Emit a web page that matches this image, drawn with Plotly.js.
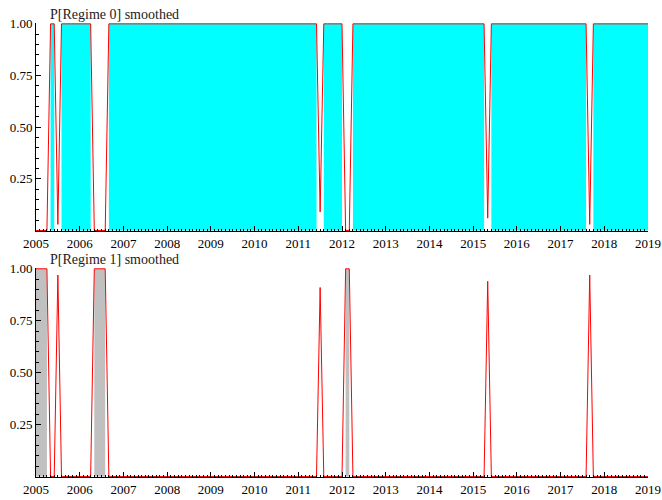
<!DOCTYPE html>
<html>
<head>
<meta charset="utf-8">
<script src="https://cdn.plot.ly/plotly-3.0.1.min.js"></script>
<style>html,body{margin:0;padding:0;background:#fff;}#chart{width:662px;height:500px;}</style>
</head>
<body>
<div id="chart"></div>
<script>
// Monthly observations, starting January 2005
const startYear = 2005;
const yearTicks = [2005,2006,2007,2008,2009,2010,2011,2012,2013,2014,2015,2016,2017,2018,2019];
const yTickVals = [0.25, 0.5, 0.75, 1.0];
const yTickText = ["0.25", "0.50", "0.75", "1.00"];
const titleTop = "P[Regime 0] smoothed";
const titleBottom = "P[Regime 1] smoothed";

// P[Regime 0] smoothed, one row per year
const p0 = [
  0,0,0,0,1,1,0.03,1,1,1,1,1,          // 2005
  1,1,1,1,0,0,0,0,1,1,1,1,             // 2006
  1,1,1,1,1,1,1,1,1,1,1,1,             // 2007
  1,1,1,1,1,1,1,1,1,1,1,1,             // 2008
  1,1,1,1,1,1,1,1,1,1,1,1,             // 2009
  1,1,1,1,1,1,1,1,1,1,1,1,             // 2010
  1,1,1,1,1,1,0.09,1,1,1,1,1,          // 2011
  1,0,0,1,1,1,1,1,1,1,1,1,             // 2012
  1,1,1,1,1,1,1,1,1,1,1,1,             // 2013
  1,1,1,1,1,1,1,1,1,1,1,1,             // 2014
  1,1,1,1,0.06,1,1,1,1,1,1,1,          // 2015
  1,1,1,1,1,1,1,1,1,1,1,1,             // 2016
  1,1,1,1,1,1,1,1,0.03,1,1,1,          // 2017
  1,1,1,1,1,1,1,1,1,1,1,1,             // 2018
  1                                    // 2019
];

// P[Regime 1] smoothed, one row per year
const p1 = [
  1,1,1,1,0,0,0.97,0,0,0,0,0,          // 2005
  0,0,0,0,1,1,1,1,0,0,0,0,             // 2006
  0,0,0,0,0,0,0,0,0,0,0,0,             // 2007
  0,0,0,0,0,0,0,0,0,0,0,0,             // 2008
  0,0,0,0,0,0,0,0,0,0,0,0,             // 2009
  0,0,0,0,0,0,0,0,0,0,0,0,             // 2010
  0,0,0,0,0,0,0.91,0,0,0,0,0,          // 2011
  0,1,1,0,0,0,0,0,0,0,0,0,             // 2012
  0,0,0,0,0,0,0,0,0,0,0,0,             // 2013
  0,0,0,0,0,0,0,0,0,0,0,0,             // 2014
  0,0,0,0,0.94,0,0,0,0,0,0,0,          // 2015
  0,0,0,0,0,0,0,0,0,0,0,0,             // 2016
  0,0,0,0,0,0,0,0,0.97,0,0,0,          // 2017
  0,0,0,0,0,0,0,0,0,0,0,0,             // 2018
  0                                    // 2019
];

const t = p0.map((_, i) => startYear + i / 12);

function blocks(vals) {
  const out = [];
  let a = null;
  vals.forEach((v, i) => {
    if (v > 0.5) { if (a === null) a = i; }
    else if (a !== null) { out.push([a, i - 1]); a = null; }
  });
  if (a !== null) out.push([a, vals.length - 1]);
  return out;
}

function shadeTraces(vals, color, xa, ya) {
  return blocks(vals).filter(b => b[1] > b[0]).map(b => ({
    x: [t[b[0]], t[b[1]]], y: [1, 1], xaxis: xa, yaxis: ya,
    mode: 'lines', fill: 'tozeroy', fillcolor: color,
    line: {width: 0, color: color}, hoverinfo: 'skip', showlegend: false
  }));
}

const traces = [
  ...shadeTraces(p0, '#00FFFF', 'x', 'y'),
  {x: t, y: p0, xaxis: 'x', yaxis: 'y', mode: 'lines', line: {color: '#FF0000', width: 1}, showlegend: false},
  ...shadeTraces(p1, '#C0C0C0', 'x2', 'y2'),
  {x: t, y: p1, xaxis: 'x2', yaxis: 'y2', mode: 'lines', line: {color: '#FF0000', width: 1}, showlegend: false}
];

const fontFam = 'Liberation Serif, Times New Roman, serif';

function xAxis(anchor) {
  return {
    anchor: anchor, range: [2005, 2019], domain: [0, 1],
    tickmode: 'array', tickvals: yearTicks, ticktext: yearTicks.map(String),
    ticks: 'inside', ticklen: 5, tickwidth: 1, tickcolor: '#000',
    minor: {tickmode: 'linear', tick0: 2005, dtick: 1/12, ticks: 'inside', ticklen: 2, tickcolor: '#000', showgrid: false},
    showline: true, linecolor: '#000', linewidth: 1, mirror: false,
    showgrid: false, zeroline: false,
    tickfont: {family: fontFam, size: 13, color: '#000'}
  };
}
function yAxis(anchor, domain) {
  return {
    anchor: anchor, range: [-0.002, 1.004], domain: domain,
    tickmode: 'array', tickvals: yTickVals, ticktext: yTickText,
    ticks: 'inside', ticklen: 5, tickwidth: 1, tickcolor: '#000',
    minor: {tickmode: 'linear', tick0: 0, dtick: 0.05, ticks: 'inside', ticklen: 3, tickcolor: '#000', showgrid: false},
    showline: true, linecolor: '#000', linewidth: 1, mirror: false,
    showgrid: false, zeroline: false,
    tickfont: {family: fontFam, size: 13, color: '#000'}
  };
}

const layout = {
  width: 662, height: 500,
  font: {family: fontFam, size: 13, color: '#000'},
  margin: {l: 36, r: 14, t: 23, b: 23, pad: 0},
  paper_bgcolor: '#fff', plot_bgcolor: '#fff',
  showlegend: false,
  xaxis: xAxis('y'),
  yaxis: yAxis('x', [0.5419, 1]),
  xaxis2: xAxis('y2'),
  yaxis2: yAxis('x2', [0, 0.4604]),
  annotations: [
    {text: titleTop, xref: 'paper', yref: 'paper', x: 0.0196, y: 1.0198, xanchor: 'left', yanchor: 'middle',
     showarrow: false, font: {family: fontFam, size: 14, color: '#222'}},
    {text: titleBottom, xref: 'paper', yref: 'paper', x: 0.0196, y: 0.478, xanchor: 'left', yanchor: 'middle',
     showarrow: false, font: {family: fontFam, size: 14, color: '#222'}}
  ]
};

Plotly.newPlot('chart', traces, layout, {displayModeBar: false, staticPlot: true}).then(gd => {
  gd.querySelectorAll('.xtick text, .ytick text, .x2tick text, .y2tick text').forEach(el => {
    el.style.fontFamily = fontFam;
  });
});
</script>
</body>
</html>
